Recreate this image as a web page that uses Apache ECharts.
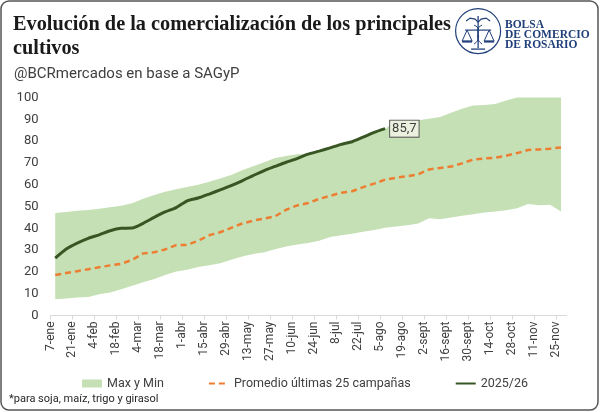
<!DOCTYPE html>
<html>
<head>
<meta charset="utf-8">
<script src="https://cdn.jsdelivr.net/npm/echarts@6/dist/echarts.min.js"></script>
<style>
html, body { margin: 0; padding: 0; background: #fff; }
#chart { width: 600px; height: 412px; }
</style>
</head>
<body>
<div id="chart"></div>
<script>
// etiquetas del eje (cada 14 dias desde el 7-ene)
var etiquetasEje = ['7-ene', '21-ene', '4-feb', '18-feb', '4-mar', '18-mar', '1-abr', '15-abr',
    '29-abr', '13-may', '27-may', '10-jun', '24-jun', '8-jul', '22-jul', '5-ago', '19-ago',
    '2-sept', '16-sept', '30-sept', '14-oct', '28-oct', '11-nov', '25-nov'];

// datos semanales, primer dato el 10-ene
var primerDia = 3;
var pasoDias = 7;

var maximo = [47.0, 47.5, 48.0, 48.4, 49.0, 49.6, 50.3, 51.5, 53.5, 55.3,
    56.8, 57.9, 58.9, 60.0, 61.3, 62.8, 64.5, 66.6, 68.5, 70.3,
    72.2, 73.2, 74.0, 74.0, 75.4, 76.9, 78.5, 79.7, 81.8, 84.0,
    85.7, 89.0, 89.2, 89.6, 90.3, 91.0, 93.0, 94.8, 96.3, 96.6,
    97.0, 98.6, 100, 100, 100, 100, 100];

var minimo = [7.4, 7.8, 8.2, 8.5, 9.8, 10.5, 12.0, 13.6, 15.2, 16.8,
    18.6, 20.2, 21.0, 22.2, 23.1, 24.0, 25.6, 27.1, 28.2, 29.0,
    30.4, 31.6, 32.6, 33.3, 34.3, 36.0, 36.8, 37.5, 38.4, 39.2,
    40.2, 40.8, 41.4, 42.2, 44.6, 44.2, 45.0, 45.8, 46.5, 47.2,
    47.7, 48.3, 49.2, 51.2, 50.6, 50.8, 47.7];

var promedio = [18.6, 19.5, 20.3, 21.2, 22.1, 23.0, 23.7, 25.5, 28.5, 29.0,
    30.3, 32.3, 32.4, 34.3, 36.8, 38.2, 40.2, 42.2, 43.5, 44.5,
    45.5, 48.5, 50.5, 51.6, 53.5, 54.9, 56.3, 57.0, 58.9, 60.5,
    62.3, 63.2, 63.9, 64.7, 67.0, 67.7, 68.3, 69.8, 71.5, 72.0,
    72.4, 73.3, 74.5, 75.9, 76.2, 76.5, 77.1];

var campana2025 = [26.3, 30.5, 33.2, 35.4, 37.0, 38.9, 40.0, 40.1, 42.3, 45.0,
    47.5, 49.5, 52.6, 53.9, 55.7, 57.6, 59.6, 61.8, 64.2, 66.5,
    68.4, 70.3, 72.0, 74.0, 75.4, 76.9, 78.5, 79.7, 81.8, 84.0, 85.7];

function dia(i) { return primerDia + pasoDias * i; }

function conDia(arr) {
    return arr.map(function (v, i) { return [dia(i), v]; });
}

var ticks = etiquetasEje.map(function (e, i) { return i * 14; });

var myChart = echarts.init(document.getElementById('chart'));
var fuente = 'Roboto';
var azul = '#22407a';

// banda entre minimo y maximo como poligono en coordenadas del grafico
function renderBanda(params, api) {
    var pts = [];
    for (var i = 0; i < maximo.length; i++) {
        pts.push(api.coord([dia(i), maximo[i]]));
    }
    for (var j = minimo.length - 1; j >= 0; j--) {
        pts.push(api.coord([dia(j), minimo[j]]));
    }
    return {
        type: 'polygon',
        shape: { points: pts },
        style: { fill: '#c5e0b4' }
    };
}

var option = {
    animation: false,
    title: [{
        text: 'Evolución de la comercialización de los principales\ncultivos',
        left: 8,
        top: 8,
        textStyle: { fontFamily: 'Liberation Serif', fontWeight: 'bold', fontSize: 20.3, lineHeight: 24, color: '#1a1a1a' }
    }, {
        text: '@BCRmercados en base a SAGyP',
        left: 9,
        top: 62,
        textStyle: { fontFamily: fuente, fontWeight: 'normal', fontSize: 15, color: '#404040' }
    }],
    grid: { left: 50.5, right: 33.3, top: 97.5, bottom: 96.5, outerBoundsMode: 'none' },
    legend: {
        left: 77,
        top: 372,
        itemGap: 44,
        itemWidth: 20,
        itemHeight: 8,
        textStyle: { fontFamily: fuente, fontSize: 12.5, color: '#404040' },
        data: [
            { name: 'Max y Min', icon: 'rect' },
            { name: 'Promedio últimas 25 campañas', itemStyle: { opacity: 0 } },
            { name: '2025/26', itemStyle: { opacity: 0 } }
        ]
    },
    xAxis: {
        type: 'value',
        min: 0,
        max: 328.6,
        interval: 14,
        axisLine: { lineStyle: { color: '#d9d9d9', width: 1 } },
        axisTick: { show: true, length: 4, lineStyle: { color: '#d9d9d9' }, customValues: ticks },
        splitLine: { show: false },
        axisLabel: {
            rotate: 90,
            margin: 6,
            fontFamily: fuente,
            fontSize: 12,
            color: '#404040',
            customValues: ticks,
            formatter: function (v) {
                var k = Math.round(v / 14);
                return (v % 14 === 0 && etiquetasEje[k]) ? etiquetasEje[k] : '';
            }
        }
    },
    yAxis: {
        type: 'value',
        min: 0,
        max: 100,
        interval: 10,
        axisLine: { show: false },
        axisTick: { show: false },
        splitLine: { show: false },
        axisLabel: { margin: 12, fontFamily: fuente, fontSize: 13, color: '#404040' }
    },
    series: [{
        name: 'Max y Min',
        type: 'custom',
        data: [[dia(0), maximo[0]]],
        renderItem: renderBanda,
        itemStyle: { color: '#c5e0b4' },
        silent: true,
        z: 1
    }, {
        name: 'Promedio últimas 25 campañas',
        type: 'line',
        data: conDia(promedio),
        symbol: 'none',
        itemStyle: { color: '#ed7d31' },
        lineStyle: { color: '#ed7d31', width: 2.5, type: [6, 4] },
        z: 3
    }, {
        name: '2025/26',
        type: 'line',
        data: conDia(campana2025),
        symbol: 'none',
        smooth: 0.2,
        itemStyle: { color: '#375623' },
        lineStyle: { color: '#375623', width: 3 },
        endLabel: {
            show: true,
            distance: 5,
            formatter: function (p) { return p.value[1].toFixed(1).replace('.', ','); },
            fontFamily: fuente,
            fontSize: 13,
            color: '#404040',
            backgroundColor: '#ebf1de',
            borderColor: '#595959',
            borderWidth: 1,
            padding: [2, 2, 1, 2]
        },
        z: 4
    }],
    graphic: [{
        type: 'rect',
        shape: { x: 1, y: 1, width: 597, height: 409, r: 8 },
        style: { fill: 'none', stroke: '#555', lineWidth: 1.5 },
        silent: true
    }, {
        type: 'group',
        left: 455,
        top: 8,
        children: [{
            type: 'circle',
            shape: { cx: 23, cy: 23, r: 22.5 },
            style: { fill: '#fff', stroke: azul, lineWidth: 1.2 }
        }, {
            type: 'line',
            shape: { x1: 23, y1: 8, x2: 23, y2: 40 },
            style: { stroke: azul, lineWidth: 1.3 }
        }, {
            type: 'line',
            shape: { x1: 10, y1: 22, x2: 36, y2: 22 },
            style: { stroke: azul, lineWidth: 1.2 }
        }, {
            type: 'polyline',
            shape: { points: [[12, 22], [7, 33], [17, 33], [12, 22]] },
            style: { fill: 'none', stroke: azul, lineWidth: 1 }
        }, {
            type: 'line',
            shape: { x1: 7, y1: 33.5, x2: 17, y2: 33.5 },
            style: { stroke: azul, lineWidth: 2 }
        }, {
            type: 'polyline',
            shape: { points: [[34, 22], [29, 33], [39, 33], [34, 22]] },
            style: { fill: 'none', stroke: azul, lineWidth: 1 }
        }, {
            type: 'line',
            shape: { x1: 29, y1: 33.5, x2: 39, y2: 33.5 },
            style: { stroke: azul, lineWidth: 2 }
        }, {
            type: 'polyline',
            shape: { points: [[11, 13], [15, 10], [20, 11], [23, 14], [26, 11], [31, 10], [35, 13]] },
            style: { fill: 'none', stroke: azul, lineWidth: 1.2 }
        }, {
            type: 'bezierCurve',
            shape: { x1: 19, y1: 17, cpx1: 30, cpy1: 22, cpx2: 16, cpy2: 28, x2: 27, y2: 36 },
            style: { fill: 'none', stroke: azul, lineWidth: 1 }
        }, {
            type: 'bezierCurve',
            shape: { x1: 27, y1: 17, cpx1: 16, cpy1: 22, cpx2: 30, cpy2: 28, x2: 19, y2: 36 },
            style: { fill: 'none', stroke: azul, lineWidth: 1 }
        }, {
            type: 'line',
            shape: { x1: 16, y1: 41, x2: 30, y2: 41 },
            style: { stroke: azul, lineWidth: 1.3 }
        }]
    }, {
        type: 'text',
        left: 505,
        top: 19,
        style: {
            text: 'BOLSA\nDE COMERCIO\nDE ROSARIO',
            font: 'bold 11.5px "Liberation Serif"',
            lineHeight: 9.8,
            fill: azul
        }
    }, {
        type: 'text',
        left: 9,
        top: 394,
        style: {
            text: '*para soja, maíz, trigo y girasol',
            font: '11px Roboto',
            fill: '#262626'
        }
    }]
};

myChart.setOption(option);
</script>
</body>
</html>
